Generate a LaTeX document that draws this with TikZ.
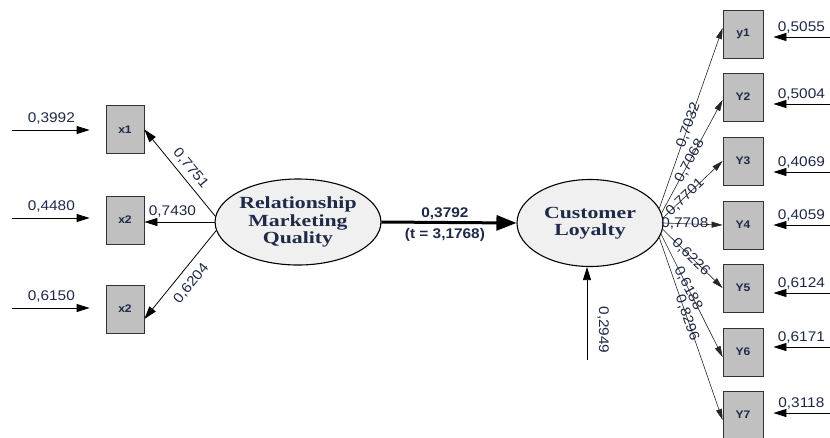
\documentclass[tikz,border=0pt]{standalone}
\usepackage{fontspec}
\setmainfont{Liberation Sans}
\newfontfamily\numf[FakeStretch=1.1]{Liberation Sans}
\newfontfamily\latf[FakeStretch=1.28]{Liberation Serif}
\usetikzlibrary{arrows.meta,calc,shapes.geometric}
\definecolor{txt}{HTML}{1E2A48}
\definecolor{boxfill}{HTML}{C0C0C0}
\definecolor{ellfill}{HTML}{F0F0F0}
\begin{document}
\begin{tikzpicture}[x=1pt,y=-1pt,
 indicator/.style={draw=black!80, line width=0.8pt, fill=boxfill, minimum width=38pt, minimum height=48pt, inner sep=0pt, font=\numf\bfseries\fontsize{11}{13}\selectfont, text=txt},
 latent/.style={ellipse, draw, line width=1.1pt, fill=ellfill, inner sep=0pt, align=center, font=\latf\bfseries\fontsize{17}{17.5}\selectfont, text=txt},
 num/.style={font=\numf\fontsize{14}{16}\selectfont, text=txt, inner sep=1pt},
 arr/.style={-{Triangle[length=13pt,width=8pt]}, line width=0.8pt},
 sarr/.style={-{Triangle[length=11pt,width=6pt]}, line width=0.6pt, draw=black!85},
]
\useasboundingbox[fill=white] (0,0) rectangle (830,437);

% latent variables
\node[latent, minimum width=150pt, minimum height=86pt] (rmq) at (298,222) {Relationship\\Marketing\\Quality};
\node[latent, minimum width=146pt, minimum height=87pt] (cl) at (590,223) {Customer\\Loyalty};

% left indicators
\node[indicator] (x1) at (125,129.5) {x1};
\node[indicator] (x2) at (125,220) {x2};
\node[indicator] (x3) at (125,309) {x2};

% right indicators
\node[indicator, minimum width=40pt] (y1) at (743,34) {y1};
\node[indicator, minimum width=40pt] (y2) at (743,97) {Y2};
\node[indicator, minimum width=40pt] (y3) at (743,161) {Y3};
\node[indicator, minimum width=40pt] (y4) at (743,225) {Y4};
\node[indicator, minimum width=40pt] (y5) at (743,288) {Y5};
\node[indicator, minimum width=40pt] (y6) at (743,352) {Y6};
\node[indicator, minimum width=40pt] (y7) at (743,415) {Y7};

% left error terms
\coordinate (d1) at (12,130);
\coordinate (d2) at (12,218);
\coordinate (d3) at (12,308);
\draw[arr, shorten >=16pt] (d1) -- node[num, above=4pt, pos=0.42] {0,3992} (d1 -| x1.west);
\draw[arr, shorten >=16pt] (d2) -- node[num, above=4pt, pos=0.42] {0,4480} (d2 -| x2.west);
\draw[arr, shorten >=16pt] (d3) -- node[num, above=4pt, pos=0.42] {0,6150} (d3 -| x3.west);

% loadings left
\draw[arr] (rmq.176) -- node[num, sloped, above=4pt, pos=0.47] {0,7751} (x1.east);
\draw[arr] (rmq.west) -- node[num, above=3pt, pos=0.6] {0,7430} (rmq.west -| x2.east);
\draw[arr] (rmq.186) -- node[num, sloped, below=7pt, pos=0.5] {0,6204} ([yshift=-10pt]x3.east);

% structural path
\draw[-{Triangle[length=20pt,width=15pt]}, line width=3pt] (rmq.east) -- (cl.west)
  node[num, pos=0.47, above=0pt, font=\numf\bfseries\fontsize{14}{16}\selectfont] {0,3792}
  node[num, pos=0.47, below=3pt, font=\numf\bfseries\fontsize{14}{16}\selectfont] {(t = 3,1768)};

% disturbance of customer loyalty
\coordinate (z) at (587,360);
\draw[arr] (z) -- (z |- cl.south);
\node[num, rotate=-90] (lz) at ($(z)+(16,-30)$) {0,2949};

% loadings right
\draw[sarr] (cl.12) -- node[num, sloped, pos=0.46] {0,7032} ([yshift=6pt]y1.west);
\draw[sarr] (cl.8) -- node[num, sloped, pos=0.46] {0,7068} ([yshift=-3pt]y2.west);
\draw[sarr] (cl.4) -- node[num, sloped, pos=0.37] {0,7701} (y3.west);
\draw[sarr] (cl.east) -- node[num, pos=0.36] {0,7708} (y4.west);
\draw[sarr] (cl.-5) -- node[num, sloped, pos=0.47] {0,6226} (y5.west);
\draw[sarr] (cl.-9) -- node[num, sloped, pos=0.44] {0,6188} ([yshift=-5pt]y6.west);
\draw[sarr] (cl.-12) -- node[num, sloped, pos=0.44] {0,8296} ([yshift=-5pt]y7.west);

% right error terms
\coordinate (e1) at (830,37);
\coordinate (e2) at (830,104);
\coordinate (e3) at (830,172);
\coordinate (e4) at (830,225);
\coordinate (e5) at (830,293);
\coordinate (e6) at (830,347);
\coordinate (e7) at (830,413);
\draw[arr, shorten >=10pt] (e1) -- node[num, above=2pt, pos=0.43] {0,5055} (e1 -| y1.east);
\draw[arr, shorten >=10pt] (e2) -- node[num, above=2pt, pos=0.43] {0,5004} (e2 -| y2.east);
\draw[arr, shorten >=10pt] (e3) -- node[num, above=2pt, pos=0.43] {0,4069} (e3 -| y3.east);
\draw[arr, shorten >=10pt] (e4) -- node[num, above=2pt, pos=0.43] {0,4059} (e4 -| y4.east);
\draw[arr, shorten >=10pt] (e5) -- node[num, above=2pt, pos=0.43] {0,6124} (e5 -| y5.east);
\draw[arr, shorten >=10pt] (e6) -- node[num, above=2pt, pos=0.43] {0,6171} (e6 -| y6.east);
\draw[arr, shorten >=10pt] (e7) -- node[num, above=2pt, pos=0.43] {0,3118} (e7 -| y7.east);
\end{tikzpicture}
\end{document}
